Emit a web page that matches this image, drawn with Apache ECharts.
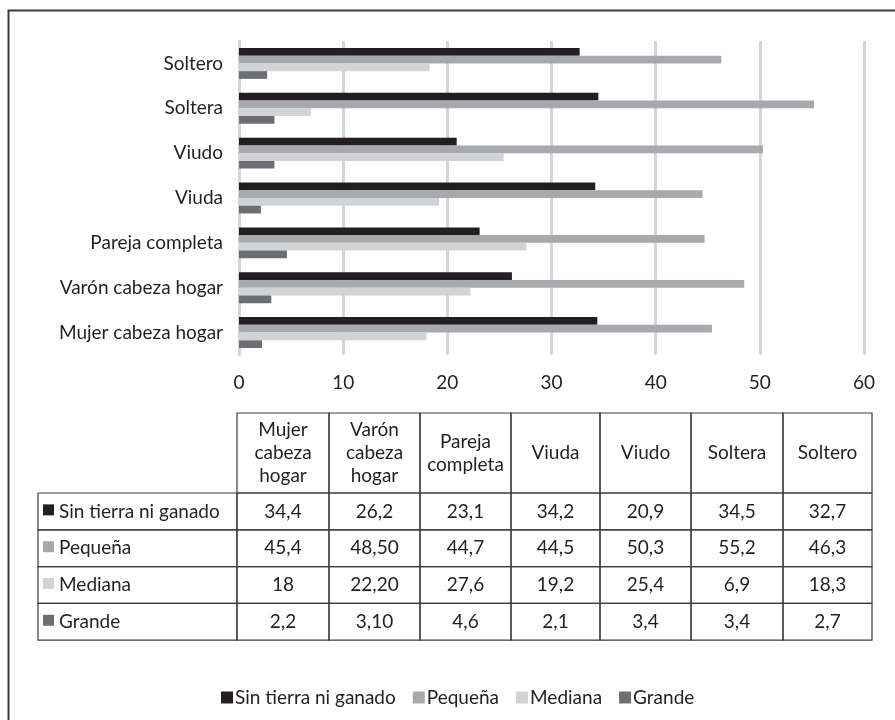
<!DOCTYPE html>
<html>
<head>
<meta charset="utf-8">
<script src="https://cdn.jsdelivr.net/npm/echarts@6/dist/echarts.min.js"></script>
<style>
  html, body { margin: 0; padding: 0; background: #fff; }
  #chart { width: 895px; height: 720px; }
</style>
</head>
<body>
<div id="chart"></div>
<script>
// Household types, in the order of the table columns
const categories = ['Mujer cabeza hogar', 'Varón cabeza hogar', 'Pareja completa', 'Viuda', 'Viudo', 'Soltera', 'Soltero'];
const headerLabels = ['Mujer\ncabeza\nhogar', 'Varón\ncabeza\nhogar', 'Pareja\ncompleta', 'Viuda', 'Viudo', 'Soltera', 'Soltero'];

// Land holding groups
const seriesNames = ['Sin tierra ni ganado', 'Pequeña', 'Mediana', 'Grande'];

// Percentages as printed in the table (decimal comma)
const sinTierra = ['34,4', '26,2', '23,1', '34,2', '20,9', '34,5', '32,7'];
const pequena   = ['45,4', '48,50', '44,7', '44,5', '50,3', '55,2', '46,3'];
const mediana   = ['18', '22,20', '27,6', '19,2', '25,4', '6,9', '18,3'];
const grande    = ['2,2', '3,10', '4,6', '2,1', '3,4', '3,4', '2,7'];

const xTicks = { min: 0, max: 60, interval: 10 };

const colors = ['#231f20', '#a7a9ac', '#d1d3d4', '#6d6e71'];
const textColor = '#231f20';
const fontFamily = 'Lato, "Open Sans", sans-serif';
const fs = 19;

const tableRows = [sinTierra, pequena, mediana, grande];
const toNum = s => parseFloat(s.replace(',', '.'));

const series = seriesNames.map((name, i) => ({
  name,
  type: 'bar',
  barGap: '0%',
  barCategoryGap: '31%',
  itemStyle: { color: colors[i] },
  data: tableRows[i].map(toNum).slice().reverse(),
  animation: false
}));

// ---- data table under the chart ----
const colX = [38, 237, 329, 420, 511, 600, 691, 783, 872];
const headTop = 413, headBottom = 493, rowH = 36.8;
const lineStyle = { stroke: '#3d3d3d', lineWidth: 1.2, fill: null };
const graphics = [];

// outer frame (top and left edges visible)
graphics.push({
  type: 'rect', silent: true,
  shape: { x: 8.5, y: 10.5, width: 1000, height: 1000 },
  style: { stroke: '#3a3a3a', lineWidth: 2, fill: null }
});

// header cells
headerLabels.forEach((h, c) => {
  const x0 = colX[c + 1], x1 = colX[c + 2];
  graphics.push({
    type: 'rect', silent: true,
    shape: { x: x0, y: headTop, width: x1 - x0, height: headBottom - headTop },
    style: lineStyle
  });
  graphics.push({
    type: 'text', silent: true,
    x: (x0 + x1) / 2, y: (headTop + headBottom) / 2,
    style: {
      text: h, fill: textColor, font: fs + 'px ' + fontFamily,
      align: 'center', verticalAlign: 'middle', lineHeight: 23
    }
  });
});

// body rows
tableRows.forEach((row, r) => {
  const y0 = headBottom + r * rowH;
  // label cell
  graphics.push({
    type: 'rect', silent: true,
    shape: { x: colX[0], y: y0, width: colX[1] - colX[0], height: rowH },
    style: lineStyle
  });
  graphics.push({
    type: 'rect', silent: true,
    shape: { x: colX[0] + 5, y: y0 + rowH / 2 - 7, width: 11, height: 11 },
    style: { fill: colors[r] }
  });
  graphics.push({
    type: 'text', silent: true,
    x: colX[0] + 21, y: y0 + rowH / 2,
    style: {
      text: seriesNames[r], fill: textColor, font: fs + 'px ' + fontFamily,
      align: 'left', verticalAlign: 'middle'
    }
  });
  row.forEach((v, c) => {
    const x0 = colX[c + 1], x1 = colX[c + 2];
    graphics.push({
      type: 'rect', silent: true,
      shape: { x: x0, y: y0, width: x1 - x0, height: rowH },
      style: lineStyle
    });
    graphics.push({
      type: 'text', silent: true,
      x: (x0 + x1) / 2, y: y0 + rowH / 2,
      style: {
        text: v, fill: textColor, font: fs + 'px ' + fontFamily,
        align: 'center', verticalAlign: 'middle'
      }
    });
  });
});

const chart = echarts.init(document.getElementById('chart'), null, { renderer: 'canvas' });
chart.setOption({
  backgroundColor: '#fff',
  animation: false,
  textStyle: { fontFamily, color: textColor },
  grid: { left: 239, right: 31, top: 41, bottom: 365, containLabel: false },
  xAxis: {
    type: 'value',
    min: xTicks.min, max: xTicks.max, interval: xTicks.interval,
    axisLine: { show: false },
    axisTick: { show: false },
    axisLabel: { color: textColor, fontSize: fs, margin: 18, fontFamily },
    splitLine: { show: true, lineStyle: { color: '#d4d5d7', width: 3 } }
  },
  yAxis: {
    type: 'category',
    inverse: true,
    data: categories.slice().reverse(),
    axisLine: { show: true, lineStyle: { color: '#d4d5d7', width: 3 } },
    axisTick: { show: false },
    axisLabel: { color: textColor, fontSize: fs, margin: 16, fontFamily }
  },
  legend: {
    data: seriesNames,
    left: 216, top: 683,
    icon: 'rect',
    itemWidth: 12, itemHeight: 12, itemGap: 17,
    textStyle: { color: textColor, fontSize: fs, fontFamily, padding: [0, 0, 0, -3] }
  },
  series,
  graphic: graphics
});
</script>
</body>
</html>
